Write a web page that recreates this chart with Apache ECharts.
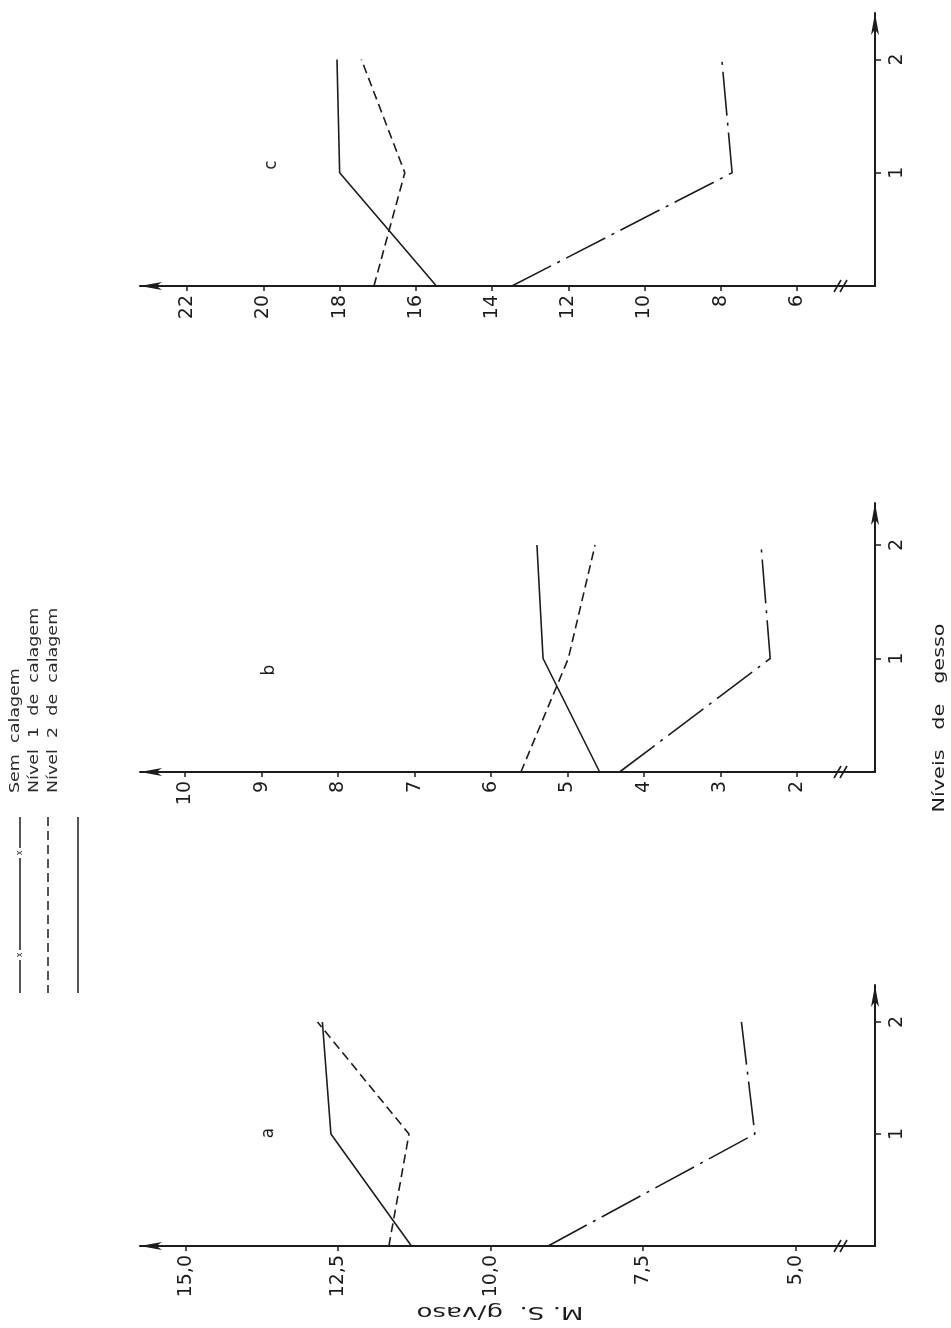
<!DOCTYPE html>
<html>
<head>
<meta charset="utf-8">
<script src="https://cdn.jsdelivr.net/npm/echarts@6/dist/echarts.min.js"></script>
<style>
  html, body { margin: 0; padding: 0; background: #ffffff; }
  #chart { width: 951px; height: 1328px; }
</style>
</head>
<body>
<div id="chart"></div>
<script>
// Níveis de gesso (gypsum levels) shared by the three panels
const gessoLevels = [0, 1, 2];
const gessoTicks = [1, 2];

const seriesNames = ['Sem calagem', 'Nível 1 de calagem', 'Nível 2 de calagem'];

// Panel a — M.S. g/vaso
const aSemCalagem = [9.06, 5.67, 5.89];
const aNivel1 = [11.67, 11.34, 12.84];
const aNivel2 = [11.30, 12.62, 12.76];
const aTicks = [5.0, 7.5, 10.0, 12.5, 15.0];

// Panel b
const bSemCalagem = [4.32, 2.35, 2.47];
const bNivel1 = [5.61, 4.99, 4.64];
const bNivel2 = [4.58, 5.32, 5.40];
const bTicks = [2, 3, 4, 5, 6, 7, 8, 9, 10];

// Panel c
const cSemCalagem = [13.48, 7.70, 7.97];
const cNivel1 = [17.10, 16.29, 17.43];
const cNivel2 = [15.46, 18.00, 18.07];
const cTicks = [6, 8, 10, 12, 14, 16, 18, 20, 22];

const FONT = 'DejaVu Sans';
const INK = '#1c1c1c';

// Layout of the three stacked panels (value axis runs right-to-left)
const panels = [
  { letter: 'a', sem: aSemCalagem, n1: aNivel1, n2: aNivel2, ticks: aTicks, decimals: true,
    min: 3.70, max: 15.75, top: 985, height: 261, gMax: 2.33, letterPos: [269, 1133] },
  { letter: 'b', sem: bSemCalagem, n1: bNivel1, n2: bNivel2, ticks: bTicks, decimals: false,
    min: 0.98, max: 10.59, top: 503, height: 269, gMax: 2.37, letterPos: [270, 670] },
  { letter: 'c', sem: cSemCalagem, n1: cNivel1, n2: cNivel2, ticks: cTicks, decimals: false,
    min: 3.95, max: 23.24, top: 13, height: 273, gMax: 2.41, letterPos: [272, 165] }
];

const lineTypes = [[44, 7, 3, 7], [9, 5], 'solid'];

const grid = [], xAxis = [], yAxis = [], series = [], graphic = [];

panels.forEach((p, i) => {
  grid.push({ left: 140, right: 76, top: p.top, height: p.height });

  xAxis.push({
    type: 'value', gridIndex: i, inverse: true, position: 'bottom',
    min: p.min, max: p.max,
    axisLine: { show: true, onZero: false, symbol: ['arrow', 'none'], symbolSize: [6, 22],
      lineStyle: { color: INK, width: 2 } },
    axisTick: { show: true, customValues: p.ticks, length: 5, lineStyle: { color: INK, width: 1.5 } },
    axisLabel: {
      customValues: p.ticks, rotate: 90, margin: 9, color: INK,
      fontFamily: FONT, fontSize: 19,
      formatter: v => p.decimals ? v.toFixed(1).replace('.', ',') : String(v)
    },
    splitLine: { show: false }
  });

  yAxis.push({
    type: 'value', gridIndex: i, position: 'right', min: 0, max: p.gMax,
    axisLine: { show: true, onZero: false, symbol: ['none', 'arrow'], symbolSize: [6, 22],
      lineStyle: { color: INK, width: 2 } },
    axisTick: { show: true, customValues: gessoTicks, length: 6, lineStyle: { color: INK, width: 1.5 } },
    axisLabel: {
      customValues: gessoTicks, rotate: 90, margin: 13, color: INK,
      fontFamily: FONT, fontSize: 19
    },
    splitLine: { show: false }
  });

  [p.sem, p.n1, p.n2].forEach((vals, k) => {
    series.push({
      type: 'line', name: seriesNames[k], xAxisIndex: i, yAxisIndex: i,
      data: gessoLevels.map((g, j) => [vals[j], g]),
      symbol: 'none', silent: true, z: 3,
      lineStyle: { color: INK, width: 1.6, type: lineTypes[k] }
    });
  });

  // panel letter
  graphic.push({
    type: 'text', x: p.letterPos[0], y: p.letterPos[1], rotation: Math.PI / 2,
    style: { text: p.letter, font: '17px "' + FONT + '"', fill: INK,
      align: 'center', verticalAlign: 'middle', textAlign: 'center', textVerticalAlign: 'middle' }
  });

  // axis break marks near the origin
  const axisY = p.top + p.height;
  [0, 6].forEach(dx => graphic.push({
    type: 'line', silent: true,
    shape: { x1: 834 + dx, y1: axisY + 6, x2: 841 + dx, y2: axisY - 6 },
    style: { stroke: INK, lineWidth: 1.6 }
  }));
});

// axis titles
graphic.push({
  type: 'text', x: 500, y: 1312, rotation: Math.PI, scaleX: 1.45,
  style: { text: 'M. S.  g/vaso', font: '18px "' + FONT + '"', fill: INK,
    align: 'center', verticalAlign: 'middle', textAlign: 'center', textVerticalAlign: 'middle' }
});
graphic.push({
  type: 'text', x: 940, y: 718, rotation: Math.PI / 2, scaleX: 1.3,
  style: { text: 'Níveis   de   gesso', font: '16px "' + FONT + '"', fill: INK,
    align: 'center', verticalAlign: 'middle', textAlign: 'center', textVerticalAlign: 'middle' }
});

// legend: sample lines and their labels
const legendTextX = [15, 34, 53];
const legendLineX = [20, 48, 78];
const legendTexts = ['Sem  calagem', 'Nível  1  de  calagem', 'Nível  2  de  calagem'];
legendTexts.forEach((t, k) => {
  graphic.push({
    type: 'text', x: legendTextX[k], y: 793, rotation: Math.PI / 2, scaleX: 1.25,
    style: { text: t, font: '14px "' + FONT + '"', fill: '#2a2a2a',
      align: 'left', verticalAlign: 'middle', textAlign: 'left', textVerticalAlign: 'middle' }
  });
});
// Sem calagem sample: long dashes separated by small crosses
[[817, 848], [858, 950], [960, 993]].forEach(s => graphic.push({
  type: 'line', shape: { x1: legendLineX[0], y1: s[0], x2: legendLineX[0], y2: s[1] },
  style: { stroke: INK, lineWidth: 1.5 }
}));
[853, 955].forEach(y => graphic.push({
  type: 'text', x: legendLineX[0], y: y, rotation: Math.PI / 2,
  style: { text: 'x', font: '8px "' + FONT + '"', fill: INK,
    align: 'center', verticalAlign: 'middle', textAlign: 'center', textVerticalAlign: 'middle' }
}));
graphic.push({
  type: 'line', shape: { x1: legendLineX[1], y1: 817, x2: legendLineX[1], y2: 993 },
  style: { stroke: INK, lineWidth: 1.5, lineDash: [9, 5] }
});
graphic.push({
  type: 'line', shape: { x1: legendLineX[2], y1: 817, x2: legendLineX[2], y2: 993 },
  style: { stroke: INK, lineWidth: 1.5 }
});

const chart = echarts.init(document.getElementById('chart'), null, { renderer: 'canvas' });
chart.setOption({
  animation: false,
  backgroundColor: '#ffffff',
  grid, xAxis, yAxis, series, graphic
});
</script>
</body>
</html>
